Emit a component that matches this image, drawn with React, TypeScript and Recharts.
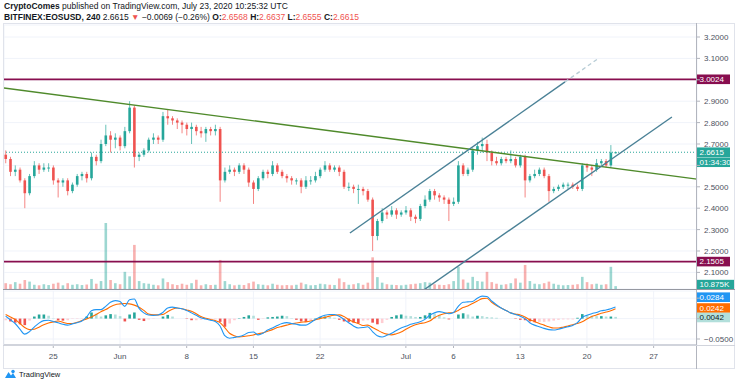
import React from "react";
import { Bar, CartesianGrid, ComposedChart, Line, ReferenceLine, XAxis, YAxis } from "recharts";

const FONT = "'Liberation Sans', Arial, sans-serif";
const UP = "#26a69a";
const DOWN = "#ef5350";
const AXIS_TEXT = "#4c525e";

// EOSUSD, 12h candles; time in days from Jun 1 (candle open time)
const opens = [
  2.65, 2.63, 2.57, 2.58, 2.53, 2.47, 2.55, 2.6, 2.58, 2.59,
  2.59, 2.53, 2.52, 2.53, 2.48, 2.51, 2.55, 2.56, 2.54, 2.64,
  2.62, 2.7, 2.74, 2.72, 2.73, 2.69, 2.76, 2.87, 2.64, 2.65,
  2.67, 2.72, 2.73, 2.72, 2.83, 2.82, 2.81, 2.8, 2.79, 2.77,
  2.78, 2.76, 2.75, 2.77, 2.76, 2.77, 2.53, 2.57, 2.58, 2.57,
  2.6, 2.58, 2.52, 2.49, 2.54, 2.57, 2.56, 2.6, 2.57, 2.55,
  2.54, 2.53, 2.53, 2.5, 2.53, 2.53, 2.55, 2.58, 2.6, 2.58,
  2.59, 2.57, 2.5, 2.5, 2.49, 2.49, 2.48, 2.44, 2.27, 2.34,
  2.38, 2.37, 2.39, 2.37, 2.38, 2.39, 2.36, 2.35, 2.41, 2.44,
  2.48, 2.46, 2.45, 2.44, 2.42, 2.43, 2.6, 2.56, 2.58, 2.67,
  2.69, 2.7, 2.66, 2.62, 2.61, 2.63, 2.62, 2.63, 2.6, 2.64,
  2.53, 2.55, 2.56, 2.58, 2.55, 2.48, 2.49, 2.5, 2.51, 2.51,
  2.5, 2.49, 2.6, 2.59, 2.58, 2.61, 2.62, 2.6, 2.6568,
];
const highs = [
  2.67, 2.64, 2.6, 2.59, 2.54, 2.56, 2.62, 2.61, 2.61, 2.61,
  2.6, 2.54, 2.54, 2.54, 2.52, 2.56, 2.57, 2.57, 2.66, 2.65,
  2.72, 2.79, 2.76, 2.75, 2.74, 2.78, 2.9, 2.88, 2.66, 2.68,
  2.73, 2.75, 2.74, 2.85, 2.86, 2.83, 2.82, 2.81, 2.8, 2.8,
  2.79, 2.78, 2.78, 2.78, 2.79, 2.78, 2.59, 2.6, 2.59, 2.61,
  2.61, 2.59, 2.53, 2.55, 2.58, 2.58, 2.62, 2.61, 2.58, 2.56,
  2.55, 2.54, 2.54, 2.55, 2.55, 2.57, 2.59, 2.62, 2.61, 2.6,
  2.6, 2.58, 2.52, 2.51, 2.51, 2.5, 2.49, 2.45, 2.35, 2.4,
  2.39, 2.41, 2.4, 2.39, 2.41, 2.4, 2.37, 2.42, 2.46, 2.49,
  2.49, 2.47, 2.46, 2.45, 2.45, 2.62, 2.61, 2.59, 2.68, 2.71,
  2.73, 2.72, 2.67, 2.64, 2.64, 2.64, 2.67, 2.64, 2.65, 2.65,
  2.56, 2.58, 2.59, 2.59, 2.56, 2.5, 2.51, 2.52, 2.52, 2.52,
  2.51, 2.61, 2.61, 2.6, 2.63, 2.63, 2.63, 2.695, 2.6637,
];
const lows = [
  2.61, 2.55, 2.55, 2.52, 2.4, 2.46, 2.54, 2.56, 2.57, 2.57,
  2.51, 2.45, 2.5, 2.46, 2.47, 2.5, 2.53, 2.52, 2.53, 2.6,
  2.61, 2.69, 2.66, 2.68, 2.67, 2.68, 2.75, 2.59, 2.62, 2.64,
  2.66, 2.7, 2.7, 2.71, 2.79, 2.79, 2.77, 2.75, 2.74, 2.7,
  2.74, 2.73, 2.71, 2.74, 2.74, 2.43, 2.52, 2.56, 2.55, 2.56,
  2.56, 2.5, 2.42, 2.48, 2.53, 2.54, 2.55, 2.56, 2.54, 2.52,
  2.51, 2.51, 2.47, 2.49, 2.51, 2.52, 2.54, 2.57, 2.57, 2.57,
  2.55, 2.49, 2.48, 2.47, 2.42, 2.46, 2.43, 2.2, 2.25, 2.33,
  2.35, 2.36, 2.35, 2.36, 2.37, 2.34, 2.33, 2.34, 2.4, 2.43,
  2.44, 2.43, 2.42, 2.34, 2.41, 2.42, 2.55, 2.55, 2.57, 2.65,
  2.66, 2.62, 2.6, 2.6, 2.6, 2.61, 2.61, 2.59, 2.59, 2.45,
  2.52, 2.54, 2.55, 2.54, 2.43, 2.47, 2.48, 2.49, 2.49, 2.49,
  2.48, 2.48, 2.57, 2.55, 2.57, 2.6, 2.59, 2.59, 2.6555,
];
const closes = [
  2.63, 2.57, 2.58, 2.53, 2.47, 2.55, 2.6, 2.58, 2.59, 2.59,
  2.53, 2.52, 2.53, 2.48, 2.51, 2.55, 2.56, 2.54, 2.64, 2.62,
  2.7, 2.74, 2.72, 2.73, 2.69, 2.76, 2.87, 2.64, 2.65, 2.67,
  2.72, 2.73, 2.72, 2.83, 2.82, 2.81, 2.8, 2.79, 2.77, 2.78,
  2.76, 2.75, 2.77, 2.76, 2.77, 2.53, 2.57, 2.58, 2.57, 2.6,
  2.58, 2.52, 2.49, 2.54, 2.57, 2.56, 2.6, 2.57, 2.55, 2.54,
  2.53, 2.53, 2.5, 2.53, 2.53, 2.55, 2.58, 2.6, 2.58, 2.59,
  2.57, 2.5, 2.5, 2.49, 2.49, 2.48, 2.44, 2.27, 2.34, 2.38,
  2.37, 2.39, 2.37, 2.38, 2.39, 2.36, 2.35, 2.41, 2.44, 2.48,
  2.46, 2.45, 2.44, 2.42, 2.43, 2.6, 2.56, 2.58, 2.67, 2.69,
  2.7, 2.66, 2.62, 2.61, 2.63, 2.62, 2.63, 2.6, 2.64, 2.53,
  2.55, 2.56, 2.58, 2.55, 2.48, 2.49, 2.5, 2.51, 2.51, 2.5,
  2.49, 2.6, 2.59, 2.58, 2.61, 2.62, 2.6, 2.66, 2.6615,
];
// volume, thousands
const volumes = [
  22, 18, 26, 20, 34, 28, 16, 14, 18, 15,
  20, 24, 14, 22, 16, 18, 15, 17, 38, 20,
  30, 250, 34, 22, 18, 65, 48, 167, 30, 22,
  20, 16, 14, 40, 26, 18, 15, 20, 16, 22,
  35, 14, 18, 15, 16, 110, 30, 18, 14, 16,
  15, 22, 28, 18, 16, 14, 20, 16, 14, 15,
  14, 16, 24, 18, 14, 15, 20, 18, 16, 15,
  40, 26, 16, 18, 22, 16, 24, 120, 45, 24,
  18, 16, 15, 14, 16, 18, 20, 22, 26, 24,
  18, 16, 15, 18, 30, 84, 36, 24, 46, 30,
  28, 65, 26, 20, 16, 18, 22, 40, 24, 91,
  30, 20, 18, 22, 28, 20, 16, 14, 15, 16,
  18, 46, 26, 18, 20, 16, 18, 84, 10.875,
];
const macdLine = [
  0.006, -0.003, -0.012, -0.026, -0.038, -0.032, -0.021, -0.011, -0.005, -0.004,
  -0.007, -0.01, -0.014, -0.016, -0.013, -0.01, -0.006, 0.004, 0.019, 0.022,
  0.022, 0.03, 0.04, 0.044, 0.042, 0.03, 0.046, 0.048, 0.025, 0.014,
  0.009, 0.008, 0.009, 0.015, 0.026, 0.028, 0.026, 0.024, 0.02, 0.014,
  0.008, 0.002, -0.001, -0.004, -0.007, -0.018, -0.042, -0.048, -0.046, -0.044,
  -0.04, -0.034, -0.033, -0.04, -0.036, -0.028, -0.023, -0.017, -0.012, -0.01,
  -0.012, -0.014, -0.016, -0.016, -0.01, -0.002, 0.004, 0.008, 0.01, 0.01,
  0.006, -0.002, -0.01, -0.018, -0.023, -0.022, -0.02, -0.032, -0.042, -0.045,
  -0.041, -0.036, -0.029, -0.023, -0.019, -0.014, -0.011, -0.008, -0.002, 0.008,
  0.014, 0.017, 0.015, 0.012, 0.015, 0.03, 0.04, 0.041, 0.042, 0.05,
  0.055, 0.054, 0.043, 0.034, 0.026, 0.02, 0.014, 0.01, 0.006, 0.0,
  -0.01, -0.016, -0.02, -0.024, -0.027, -0.028, -0.026, -0.023, -0.02, -0.017,
  -0.01, 0.003, 0.008, 0.012, 0.015, 0.019, 0.021, 0.024, 0.0284,
];
const signalLine = [
  0.01, 0.004, -0.002, -0.012, -0.022, -0.027, -0.026, -0.021, -0.015, -0.011,
  -0.008, -0.006, -0.009, -0.012, -0.012, -0.009, -0.005, -0.001, 0.004, 0.01,
  0.017, 0.022, 0.029, 0.034, 0.036, 0.037, 0.036, 0.033, 0.028, 0.02,
  0.011, 0.009, 0.009, 0.01, 0.017, 0.023, 0.026, 0.024, 0.021, 0.018,
  0.012, 0.005, 0.001, -0.002, -0.005, -0.01, -0.022, -0.036, -0.042, -0.045,
  -0.044, -0.042, -0.04, -0.037, -0.035, -0.031, -0.027, -0.022, -0.019, -0.016,
  -0.013, -0.011, -0.009, -0.008, -0.006, -0.003, 0.0, 0.003, 0.006, 0.008,
  0.009, 0.005, -0.002, -0.008, -0.012, -0.017, -0.016, -0.022, -0.028, -0.034,
  -0.038, -0.04, -0.037, -0.033, -0.026, -0.02, -0.015, -0.012, -0.01, -0.006,
  0.002, 0.008, 0.012, 0.014, 0.015, 0.02, 0.027, 0.031, 0.037, 0.043,
  0.049, 0.05, 0.04, 0.032, 0.026, 0.02, 0.014, 0.011, 0.009, 0.004,
  -0.003, -0.007, -0.012, -0.016, -0.02, -0.023, -0.023, -0.021, -0.018, -0.015,
  -0.012, -0.008, -0.001, 0.005, 0.009, 0.013, 0.016, 0.019, 0.0242,
];
const histogram = [
  -0.004, -0.007, -0.01, -0.014, -0.016, -0.005, 0.005, 0.01, 0.01, 0.007,
  0.001, -0.004, -0.005, -0.004, -0.001, -0.001, -0.001, 0.005, 0.015, 0.012,
  0.005, 0.008, 0.011, 0.01, 0.006, -0.007, 0.01, 0.015, -0.003, -0.006,
  -0.002, -0.001, 0.0, 0.005, 0.009, 0.005, 0.0, 0.0, -0.001, -0.004,
  -0.004, -0.003, -0.002, -0.002, -0.002, -0.008, -0.02, -0.012, -0.004, 0.001,
  0.004, 0.008, 0.007, -0.003, -0.001, 0.003, 0.004, 0.005, 0.007, 0.006,
  0.001, -0.003, -0.007, -0.008, -0.004, 0.001, 0.004, 0.005, 0.004, 0.002,
  -0.003, -0.007, -0.008, -0.01, -0.011, -0.005, -0.004, -0.01, -0.014, -0.011,
  -0.003, 0.004, 0.008, 0.01, 0.007, 0.006, 0.004, 0.004, 0.008, 0.014,
  0.012, 0.009, 0.003, -0.002, 0.0, 0.01, 0.013, 0.01, 0.005, 0.007,
  0.006, 0.004, 0.003, 0.002, 0.0, 0.0, 0.0, -0.001, -0.003, -0.004,
  -0.007, -0.009, -0.008, -0.008, -0.007, -0.005, -0.003, -0.002, -0.002, -0.002,
  0.002, 0.011, 0.009, 0.007, 0.006, 0.006, 0.005, 0.005, 0.0042,
];

// candle open times: one every half day, first one on May 20
const candleTimes = closes.map((_, i) => -12 + i * 0.5);

const dateTicks = [-7, 0, 7, 14, 21, 30, 35, 42, 49, 56];
const dateLabels = ["25", "Jun", "8", "15", "22", "Jul", "6", "13", "20", "27"];
const priceTicks = [2.1, 2.2, 2.3, 2.4, 2.5, 2.6, 2.7, 2.8, 2.9, 3.0, 3.1, 3.2];
const coveredPriceTicks = [2.6, 3.0];
const macdTicks = [-0.05, 0, 0.05];

const resistance = 3.0024;
const support = 2.1505;
const lastPrice = 2.6615;
const lastVolume = "10.875K";
const countdown = "01:34:30";

const downTrend = [{ x: -12.17, y: 2.962 }, { x: 60.55, y: 2.536 }];
const channelTop = [{ x: 24.13, y: 2.284 }, { x: 46.7, y: 2.99 }];
const channelTopFade = [{ x: 46.7, y: 2.99 }, { x: 50.2, y: 3.1 }];
const channelBottom = [{ x: 31.5, y: 2.006 }, { x: 57.92, y: 2.826 }];

const X_DOMAIN: [number, number] = [-12.17, 60.55];

const rows = candleTimes.map((t, i) => ({
  t,
  open: opens[i],
  high: highs[i],
  low: lows[i],
  close: closes[i],
  vol: volumes[i],
  macd: macdLine[i],
  signal: signalLine[i],
  hist: histogram[i],
  prevHist: i > 0 ? histogram[i - 1] : histogram[i],
}));

function Candle(props: any) {
  const { x, y, width, height } = props;
  const p = props.payload ?? props;
  const top = Math.min(y, y + height);
  const h = Math.abs(height);
  const k = h / (p.high - p.low);
  const yO = top + (p.high - p.open) * k;
  const yC = top + (p.high - p.close) * k;
  const color = p.close >= p.open ? UP : DOWN;
  const cx = x + width / 2;
  return (
    <g>
      <line x1={cx} x2={cx} y1={top} y2={top + h} stroke={color} strokeOpacity={0.7} strokeWidth={1} />
      <rect x={cx - 1.3} width={2.6} y={Math.min(yO, yC)} height={Math.max(1, Math.abs(yO - yC))} fill={color} />
    </g>
  );
}

function VolumeBar(props: any) {
  const { x, y, width, height } = props;
  const p = props.payload ?? props;
  const color = p.close >= p.open ? UP : DOWN;
  return <rect x={x + width / 2 - 1.3} y={Math.min(y, y + height)} width={2.6} height={Math.abs(height)} fill={color} fillOpacity={0.45} />;
}

function HistBar(props: any) {
  const { x, y, width, height } = props;
  const p = props.payload ?? props;
  let color;
  if (p.hist >= 0) color = p.hist >= p.prevHist ? UP : "#b2dfdb";
  else color = p.hist < p.prevHist ? DOWN : "#ffcdd2";
  return <rect x={x + width / 2 - 1.3} y={Math.min(y, y + height)} width={2.6} height={Math.abs(height)} fill={color} />;
}

function PriceTick(props: any) {
  const { x, y, payload } = props;
  if (coveredPriceTicks.includes(payload.value)) return <g />;
  return (
    <text x={x + 2} y={y + 3} fontSize={8} fill={AXIS_TEXT} fontFamily={FONT}>
      {payload.value.toFixed(4)}
    </text>
  );
}

function MacdTick(props: any) {
  const { x, y, payload } = props;
  if (payload.value !== -0.05) return <g />;
  return (
    <text x={x + 2} y={y + 3} fontSize={8} fill={AXIS_TEXT} fontFamily={FONT}>
      {"\u22120.0500"}
    </text>
  );
}

function DateTick(props: any) {
  const { x, y, payload } = props;
  const i = dateTicks.indexOf(payload.value);
  return (
    <text x={x} y={y + 9} fontSize={8} fill={AXIS_TEXT} fontFamily={FONT} textAnchor="middle">
      {dateLabels[i]}
    </text>
  );
}

function Tag(props: any) {
  const { viewBox, lines, bg, color = "#fff", dy = 0, w = 33 } = props;
  if (!viewBox) return null;
  const x = viewBox.x + viewBox.width;
  const y = viewBox.y + dy;
  return (
    <g>
      {lines.map((txt: string, i: number) => (
        <g key={i}>
          <rect x={x} y={y - 4.8 + i * 10} width={w} height={9.6} fill={bg} />
          <text x={x + 2.5} y={y + 2.8 + i * 10} fontSize={8} fill={color} fontFamily={FONT}>
            {txt}
          </text>
        </g>
      ))}
    </g>
  );
}

function PriceChart() {
  return (
    <ComposedChart width={736} height={265} data={rows} margin={{ top: 1, right: 0, left: 4, bottom: 0 }}>
      <CartesianGrid stroke="#f0f3fa" strokeWidth={1} />
      <XAxis dataKey="t" type="number" domain={X_DOMAIN} allowDataOverflow ticks={dateTicks} interval={0} height={0} tick={false} axisLine={false} tickLine={false} />
      <XAxis xAxisId="v" dataKey="t" type="number" domain={X_DOMAIN} allowDataOverflow hide />
      <YAxis orientation="right" width={39} domain={[2.0224, 3.2561]} allowDataOverflow ticks={priceTicks} interval={0} tick={<PriceTick />} tickLine={{ stroke: "#b2b5be" }} tickSize={3} axisLine={false} />
      <YAxis yAxisId="v" domain={[0, 1000]} hide />
      <Bar xAxisId="v" yAxisId="v" dataKey="vol" barSize={3} shape={<VolumeBar />} isAnimationActive={false} />
      <ReferenceLine yAxisId="v" xAxisId="v" y={10.875} stroke="none" label={<Tag lines={[lastVolume]} bg={UP} w={38} dy={-1.5} />} />
      <ReferenceLine y={lastPrice} stroke={UP} strokeDasharray="1 2" strokeWidth={1} label={<Tag lines={[lastPrice.toFixed(4), countdown]} bg={UP} />} />
      <ReferenceLine y={resistance} stroke="#880e4f" strokeWidth={1.8} label={<Tag lines={[resistance.toFixed(4)]} bg="#880e4f" />} />
      <ReferenceLine y={support} stroke="#880e4f" strokeWidth={1.8} label={<Tag lines={[support.toFixed(4)]} bg="#880e4f" />} />
      <Bar dataKey={(d: any) => [d.low, d.high]} barSize={3} shape={<Candle />} isAnimationActive={false} />
      <ReferenceLine segment={downTrend} stroke="#4f8a2b" strokeWidth={1.4} ifOverflow="hidden" />
      <ReferenceLine segment={channelTop} stroke="#4a8196" strokeWidth={1.4} ifOverflow="hidden" />
      <ReferenceLine segment={channelTopFade} stroke="#b8cdd6" strokeWidth={1.4} strokeDasharray="4 3" ifOverflow="hidden" />
      <ReferenceLine segment={channelBottom} stroke="#4a8196" strokeWidth={1.4} ifOverflow="hidden" />
    </ComposedChart>
  );
}

function MacdChart() {
  return (
    <ComposedChart width={736} height={79} data={rows} margin={{ top: 1, right: 0, left: 4, bottom: 0 }}>
      <CartesianGrid stroke="#f0f3fa" strokeWidth={1} />
      <XAxis dataKey="t" type="number" domain={X_DOMAIN} allowDataOverflow ticks={dateTicks} interval={0} height={24} tick={<DateTick />} tickLine={{ stroke: "#b2b5be" }} tickSize={3} axisLine={{ stroke: "#d1d4dc", strokeWidth: 2 }} />
      <YAxis orientation="right" width={39} domain={[-0.0647, 0.0676]} allowDataOverflow ticks={macdTicks} interval={0} tick={<MacdTick />} tickLine={{ stroke: "#b2b5be" }} tickSize={3} axisLine={false} />
      <Bar dataKey="hist" barSize={3} shape={<HistBar />} isAnimationActive={false} />
      <Line dataKey="signal" type="monotone" stroke="#ff6d00" strokeWidth={1.1} dot={false} isAnimationActive={false} />
      <Line dataKey="macd" type="monotone" stroke="#2196f3" strokeWidth={1.1} dot={false} isAnimationActive={false} />
      <ReferenceLine y={0.0284} stroke="none" label={<Tag lines={["0.0284"]} bg="#2196f3" dy={-9.8} />} />
      <ReferenceLine y={0.0242} stroke="none" label={<Tag lines={["0.0242"]} bg="#ff6d00" dy={-0.7} />} />
      <ReferenceLine y={0.0042} stroke="none" label={<Tag lines={["0.0042"]} bg="#b2dfdb" color="#131722" dy={0.6} />} />
    </ComposedChart>
  );
}

function Header() {
  const red = { color: DOWN };
  const b = { fontWeight: 700 };
  return (
    <div style={{ position: "absolute", left: 4, top: 1, fontSize: 8.5, lineHeight: "11px", color: "#131722", whiteSpace: "nowrap" }}>
      <div>
        <span style={b}>CryptoComes</span> published on TradingView.com, July 23, 2020 10:25:32 UTC
      </div>
      <div>
        <span style={b}>BITFINEX:EOSUSD, 240</span> 2.6615 <span style={red}>▼</span> −0.0069 (−0.26%) <span style={b}>O:</span>
        <span style={red}>2.6568</span> <span style={b}>H:</span>
        <span style={red}>2.6637</span> <span style={b}>L:</span>
        <span style={red}>2.6555</span> <span style={b}>C:</span>
        <span style={red}>2.6615</span>
      </div>
    </div>
  );
}

function Footer() {
  return (
    <div style={{ position: "absolute", left: 4, top: 369, display: "flex", alignItems: "center", gap: 2 }}>
      <svg width={13} height={10} viewBox="0 0 26 20">
        <path d="M2 18 L9 6 L14 13 L18 8 L24 18 Z" fill="#2196f3" />
        <circle cx={18} cy={5} r={3.5} fill="#2196f3" />
      </svg>
      <span style={{ fontSize: 7.5, color: "#131722" }}>TradingView</span>
    </div>
  );
}

export default function App() {
  const line = (style: React.CSSProperties) => <div style={{ position: "absolute", ...style }} />;
  return (
    <div style={{ position: "fixed", left: 0, top: 0, width: 736, height: 381, background: "#fff", fontFamily: FONT, overflow: "hidden" }}>
      <Header />
      <div style={{ position: "absolute", left: 0, top: 24 }}>
        <PriceChart />
      </div>
      <div style={{ position: "absolute", left: 0, top: 290 }}>
        <MacdChart />
      </div>
      {line({ left: 3, top: 23, width: 732, height: 346, border: "1px solid #e0e3eb", boxSizing: "border-box" })}
      {line({ left: 696, top: 23, width: 1, height: 346, background: "#b2b5be" })}
      {line({ left: 3, top: 289, width: 732, height: 1, background: "#9598a1" })}
      {line({ left: 3, top: 345, width: 732, height: 1, background: "#d1d4dc" })}
      <Footer />
    </div>
  );
}
